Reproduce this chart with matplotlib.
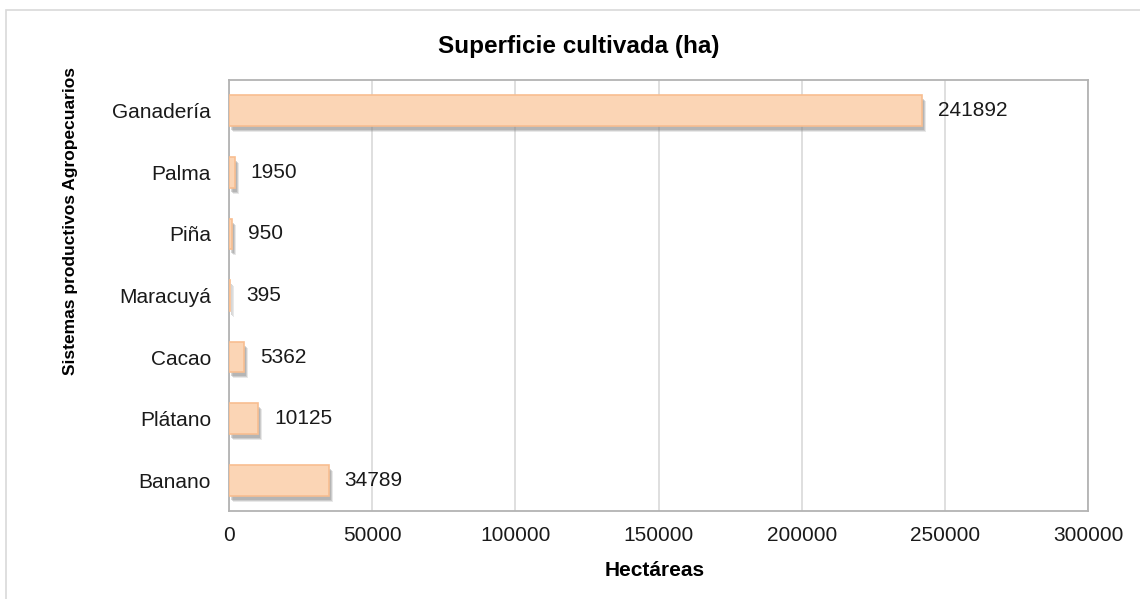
import matplotlib
matplotlib.use("Agg")
import matplotlib.pyplot as plt
import matplotlib.transforms as mtransforms
from matplotlib.patches import Rectangle

plt.rcParams['font.family'] = ['Liberation Sans', 'DejaVu Sans']

categories = ["Ganadería", "Palma", "Piña", "Maracuyá", "Cacao", "Plátano", "Banano"]
values = [241892, 1950, 950, 395, 5362, 10125, 34789]
xticks = [0, 50000, 100000, 150000, 200000, 250000, 300000]

fig = plt.figure(figsize=(11.4, 5.99), dpi=100)
ax = fig.add_axes([229/1140, 1-511/599, (1088-229)/1140, (511-80)/599])

ypos = list(range(len(categories)))
bw = 0.5

# soft shadow layers
for dx, dy, a in [(4, -6, 0.2), (3, -5, 0.3), (2, -4, 0.35)]:
    off = ax.transData + mtransforms.ScaledTranslation(dx/100, dy/100, fig.dpi_scale_trans)
    ax.barh(ypos, values, height=bw, color='#8C8C8C', alpha=a, transform=off,
            linewidth=0, zorder=2)

ax.barh(ypos, values, height=bw, color='#FBD5B5', edgecolor='#F8BE90',
        linewidth=1.2, zorder=3)

for y, v in zip(ypos, values):
    ax.annotate(str(v), (v, y), xytext=(11.5, 0), textcoords='offset points',
                va='center', ha='left', fontsize=15, color='#1a1a1a', zorder=4)

ax.set_xlim(0, 300000)
ax.set_ylim(len(categories)-0.5, -0.5)
ax.set_xticks(xticks)
ax.set_xticklabels([str(t) for t in xticks])
ax.set_yticks(ypos)
ax.set_yticklabels(categories)
ax.tick_params(axis='both', length=0, labelsize=15, colors='#1a1a1a')
ax.tick_params(axis='y', pad=13)
ax.tick_params(axis='x', pad=11)
ax.grid(axis='x', color='#D9D9D9', linewidth=1.2, zorder=0)
ax.set_axisbelow(True)
for s in ax.spines.values():
    s.set_color('#B3B3B3')
    s.set_linewidth(1.3)

fig.text(579/1140, 1-46/599, "Superficie cultivada (ha)", ha='center', va='center',
         fontsize=17.5, fontweight='bold')
fig.text(655/1140, 1-570/599, "Hectáreas", ha='center', va='center',
         fontsize=15, fontweight='bold')
fig.text(71/1140, 1-221/599, "Sistemas productivos Agropecuarios", ha='center', va='center',
         rotation=90, fontsize=12.5, fontweight='bold')

fig.patches.append(Rectangle((6/1140, -0.1), 1.2, 1-10/599+0.1, transform=fig.transFigure,
                             fill=False, edgecolor='#D9D9D9', linewidth=1.2))

fig.savefig("out.png", dpi=100)
